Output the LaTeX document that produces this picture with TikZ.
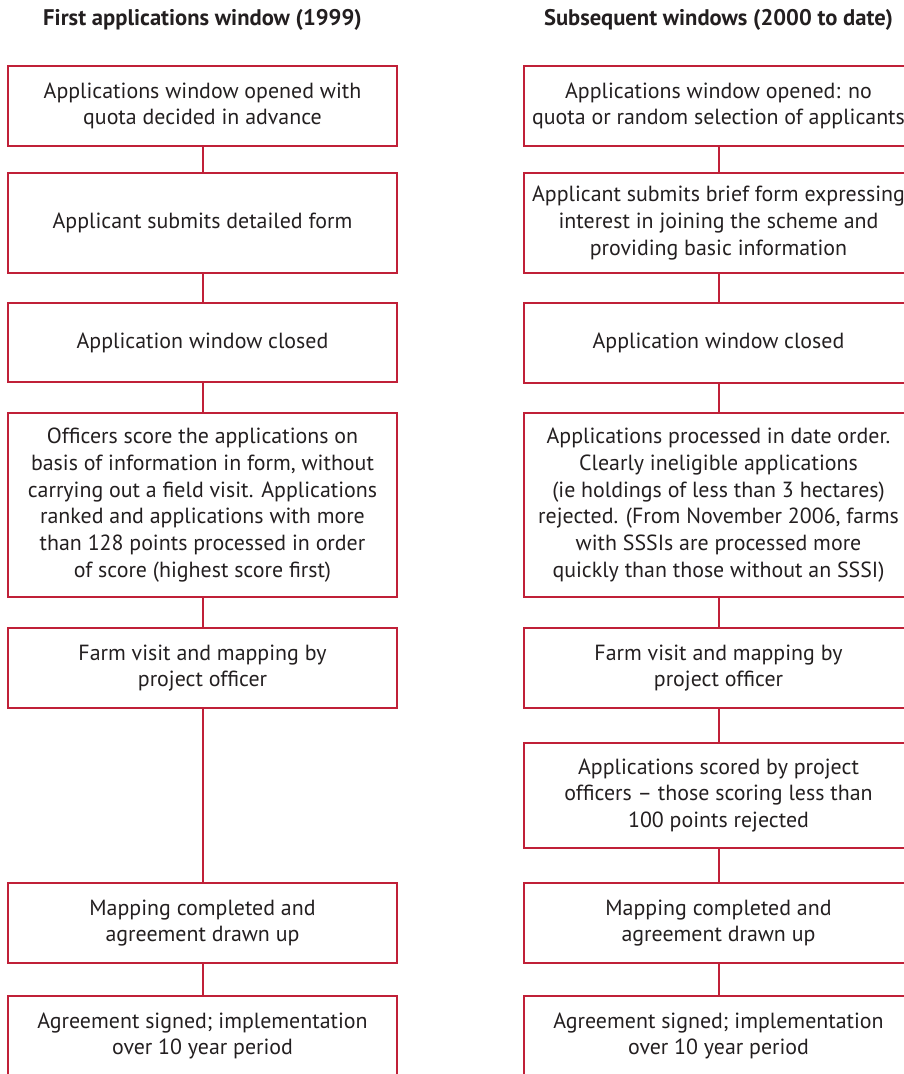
\documentclass[tikz,border=0pt]{standalone}
\usepackage{fontspec}
\setmainfont{PT Sans}
\definecolor{boxred}{RGB}{192,32,56}
\definecolor{inkgrey}{RGB}{35,31,32}
\tikzset{
	stagebox/.style={draw=boxred, line width=2pt, rectangle, minimum width=389pt, align=center, text=inkgrey, font=\fontsize{21.9}{26.7}\selectfont, inner sep=0pt},
	title/.style={text=inkgrey, font=\fontsize{22.6}{27}\selectfont\bfseries},
	link/.style={draw=boxred, line width=2pt}
}
\begin{document}
\begin{tikzpicture}[x=1pt, y=-1pt]
	\useasboundingbox (0,0) rectangle (903,1074);
	% column titles
	\node[title] (tfirst) at (202.5,20) {First applications window (1999)};
	\node[title] (tnext) at (718.5,20) {Subsequent windows (2000 to date)};

	% first window
	\node[stagebox, minimum height=80pt] (l1) at (202.5,106) {Applications window opened with\\quota decided in advance};
	\node[stagebox, minimum height=100pt] (l2) at (202.5,223) {Applicant submits detailed form};
	\node[stagebox, minimum height=79pt] (l3) at (202.5,342.5) {Application window closed};
	\node[stagebox, minimum height=184pt] (l4) at (202.5,505) {Officers score the applications on\\basis of information in form, without\\carrying out a field visit. Applications\\ranked and applications with more\\than 128 points processed in order\\of score (highest score first)};
	\node[stagebox, minimum height=80pt] (l5) at (202.5,668) {Farm visit and mapping by\\project officer};
	\node[stagebox, minimum height=80pt] (l6) at (202.5,923) {Mapping completed and\\agreement drawn up};
	\node[stagebox, minimum height=80pt] (l7) at (202.5,1036) {Agreement signed; implementation\\over 10 year period};
	\foreach \a/\b in {l1/l2, l2/l3, l3/l4, l4/l5, l5/l6, l6/l7} \draw[link] (\a) -- (\b);

	% subsequent windows
	\node[stagebox, minimum height=80pt] (r1) at (718.5,106) {Applications window opened: no\\quota or random selection of applicants};
	\node[stagebox, minimum height=100pt] (r2) at (718.5,223) {Applicant submits brief form expressing\\interest in joining the scheme and\\providing basic information};
	\node[stagebox, minimum height=80pt] (r3) at (718.5,343) {Application window closed};
	\node[stagebox, minimum height=184pt] (r4) at (718.5,505) {Applications processed in date order.\\Clearly ineligible applications\\(ie holdings of less than 3 hectares)\\rejected. (From November 2006, farms\\with SSSIs are processed more\\quickly than those without an SSSI)};
	\node[stagebox, minimum height=80pt] (r5) at (718.5,668) {Farm visit and mapping by\\project officer};
	\node[stagebox, minimum height=105pt] (r6) at (718.5,795.5) {Applications scored by project\\officers -- those scoring less than\\100 points rejected};
	\node[stagebox, minimum height=80pt] (r7) at (718.5,923) {Mapping completed and\\agreement drawn up};
	\node[stagebox, minimum height=80pt] (r8) at (718.5,1036) {Agreement signed; implementation\\over 10 year period};
	\foreach \a/\b in {r1/r2, r2/r3, r3/r4, r4/r5, r5/r6, r6/r7, r7/r8} \draw[link] (\a) -- (\b);
\end{tikzpicture}
\end{document}
